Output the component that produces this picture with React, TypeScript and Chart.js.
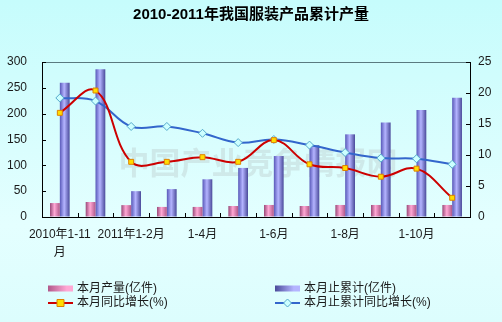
import { useEffect, useRef } from 'react';
import { Chart, registerables } from 'chart.js';

Chart.register(...registerables);

const categories = ['2010年1-11月', '2010年1-12月', '2011年1-2月', '1-3月', '1-4月', '1-5月', '1-6月', '1-7月', '1-8月', '1-9月', '1-10月', '1-11月'];
const tickLabels: (string | string[])[] = [['2010年1-11', '月'], '', '2011年1-2月', '', '1-4月', '', '1-6月', '', '1-8月', '', '1-10月', ''];
const monthOutput = [27, 29, 23, 19.5, 19.5, 21.3, 23.3, 21.3, 23.3, 23.3, 23.3, 23.3];
const cumulativeOutput = [260, 286, 50, 54, 73, 95, 118, 139, 160, 183, 207, 231];
const monthGrowth = [16.8, 20.4, 8.9, 8.9, 9.65, 8.9, 12.4, 8.5, 7.9, 6.5, 7.8, 3.1];
const cumulativeGrowth = [19.2, 18.7, 14.6, 14.6, 13.5, 12.0, 12.5, 11.6, 10.4, 9.5, 9.4, 8.5];
const seriesNames = ['本月产量(亿件)', '本月止累计(亿件)', '本月同比增长(%)', '本月止累计同比增长(%)'];
const titleText = '2010-2011年我国服装产品累计产量';
const watermarkText = '中国产业竞争情报网';

const FONT = '"Liberation Sans", "Noto Sans CJK SC", sans-serif';
const CAT_PCT = 0.55;

const pinkStops = ['#9a4a7a', '#ffa8d4', '#b0588a'];
const blueStops = ['#5858b8', '#b4b4ff', '#4a4a9a'];

function barGradient(ctx: any, dsIndex: number, stops: string[]) {
  const chart = ctx.chart;
  const xs = chart.scales && chart.scales.x;
  const i = ctx.dataIndex;
  if (!chart.chartArea || !xs || i === undefined) return stops[1];
  const c = xs.getPixelForValue(i);
  const w = (xs.width / categories.length) * CAT_PCT / 2;
  const left = dsIndex === 0 ? c - w : c;
  const g = chart.ctx.createLinearGradient(left, 0, left + w, 0);
  g.addColorStop(0, stops[0]);
  g.addColorStop(0.45, stops[1]);
  g.addColorStop(1, stops[2]);
  return g;
}

const bgPlugin = {
  id: 'bg',
  beforeDraw(chart: any) {
    const { ctx, width, height } = chart;
    ctx.save();
    const g = ctx.createLinearGradient(0, 0, 0, height);
    g.addColorStop(0, '#c6fcfc');
    g.addColorStop(0.7, '#e4ffff');
    g.addColorStop(1, '#dcfdfd');
    ctx.fillStyle = g;
    ctx.fillRect(0, 0, width, height);
    ctx.restore();
  },
};

const watermarkPlugin = {
  id: 'watermark',
  beforeDatasetsDraw(chart: any) {
    const { ctx, chartArea: a } = chart;
    ctx.save();
    ctx.font = 'bold 31px "Noto Sans CJK SC", serif';
    ctx.fillStyle = 'rgba(160,160,160,0.22)';
    ctx.textAlign = 'center';
    ctx.textBaseline = 'middle';
    ctx.fillText(watermarkText, (a.left + a.right) / 2 + 2, 162);
    ctx.restore();
  },
};

const framePlugin = {
  id: 'frame',
  afterDraw(chart: any) {
    const { ctx, chartArea: a, scales } = chart;
    ctx.save();
    ctx.lineWidth = 1;
    ctx.strokeStyle = '#5a7a80';
    ctx.beginPath();
    ctx.moveTo(a.left, Math.round(a.top) + 0.5);
    ctx.lineTo(a.right, Math.round(a.top) + 0.5);
    ctx.stroke();
    ctx.strokeStyle = '#000';
    ctx.beginPath();
    scales.y.ticks.forEach((t: any) => {
      const y = Math.round(scales.y.getPixelForValue(t.value)) + 0.5;
      ctx.moveTo(a.left, y);
      ctx.lineTo(a.left + 4, y);
    });
    scales.y1.ticks.forEach((t: any) => {
      const y = Math.round(scales.y1.getPixelForValue(t.value)) + 0.5;
      ctx.moveTo(a.right, y);
      ctx.lineTo(a.right - 4, y);
    });
    for (let i = 0; i <= categories.length; i++) {
      const x = Math.round(scales.x.getPixelForValue(i - 0.5)) + 0.5;
      ctx.moveTo(x, a.bottom);
      ctx.lineTo(x, a.bottom - 4);
    }
    ctx.stroke();
    ctx.restore();
  },
};

const legendPlugin = {
  id: 'customLegend',
  afterDraw(chart: any) {
    const { ctx } = chart;
    ctx.save();
    ctx.font = '12px ' + FONT;
    ctx.fillStyle = '#1a1a1a';
    ctx.textBaseline = 'middle';
    ctx.textAlign = 'left';
    const cols = [48, 275];
    const rows = [288.5, 303];
    const swW = 25;
    const bars = [[...pinkStops], [...blueStops]];
    [0, 1].forEach((k) => {
      const x = cols[k];
      const y = rows[0];
      const st = bars[k];
      const g = ctx.createLinearGradient(x, 0, x + swW, 0);
      g.addColorStop(0, st[2]);
      g.addColorStop(0.75, st[1]);
      g.addColorStop(1, st[1]);
      ctx.fillStyle = g;
      ctx.fillRect(x, y - 3, swW, 6);
      ctx.fillStyle = '#1a1a1a';
      ctx.fillText(seriesNames[k], x + swW + 4, y);
    });
    const lines = [
      { color: '#cc0000', fill: '#ffdd00', border: '#e08000', diamond: false },
      { color: '#3366cc', fill: '#ccffff', border: '#55aacc', diamond: true },
    ];
    [0, 1].forEach((k) => {
      const x = cols[k];
      const y = rows[1];
      const L = lines[k];
      ctx.strokeStyle = L.color;
      ctx.lineWidth = 2;
      ctx.beginPath();
      ctx.moveTo(x, y);
      ctx.lineTo(x + swW, y);
      ctx.stroke();
      const cx = x + swW / 2;
      ctx.fillStyle = L.fill;
      ctx.strokeStyle = L.border;
      ctx.lineWidth = 1;
      ctx.beginPath();
      if (L.diamond) {
        ctx.moveTo(cx, y - 4);
        ctx.lineTo(cx + 4, y);
        ctx.lineTo(cx, y + 4);
        ctx.lineTo(cx - 4, y);
        ctx.closePath();
      } else {
        ctx.rect(cx - 3.5, y - 3.5, 7, 7);
      }
      ctx.fill();
      ctx.stroke();
      ctx.fillStyle = '#1a1a1a';
      ctx.fillText(seriesNames[k + 2], x + swW + 4, y);
    });
    ctx.restore();
  },
};

export default function App() {
  const ref = useRef<HTMLCanvasElement>(null);
  useEffect(() => {
    document.body.style.margin = '0';
    if (!ref.current) return;
    const chart = new Chart(ref.current, {
      type: 'bar',
      data: {
        labels: categories,
        datasets: [
          {
            type: 'bar',
            label: seriesNames[0],
            data: monthOutput,
            yAxisID: 'y',
            order: 3,
            barPercentage: 1,
            categoryPercentage: CAT_PCT,
            backgroundColor: (c: any) => barGradient(c, 0, pinkStops),
            borderWidth: 0,
          },
          {
            type: 'bar',
            label: seriesNames[1],
            data: cumulativeOutput,
            yAxisID: 'y',
            order: 3,
            barPercentage: 1,
            categoryPercentage: CAT_PCT,
            backgroundColor: (c: any) => barGradient(c, 1, blueStops),
            borderWidth: 0,
          },
          {
            type: 'line',
            label: seriesNames[2],
            data: monthGrowth,
            yAxisID: 'y1',
            order: 0,
            borderColor: '#cc0000',
            borderWidth: 2,
            tension: 0.4,
            pointStyle: 'rect',
            pointRadius: 3.5,
            pointBackgroundColor: '#ffdd00',
            pointBorderColor: '#e08000',
            pointBorderWidth: 1,
            fill: false,
          },
          {
            type: 'line',
            label: seriesNames[3],
            data: cumulativeGrowth,
            yAxisID: 'y1',
            order: 1,
            borderColor: '#3366cc',
            borderWidth: 2,
            tension: 0.4,
            pointStyle: 'rectRot',
            pointRadius: 4,
            pointBackgroundColor: '#ccffff',
            pointBorderColor: '#55aacc',
            pointBorderWidth: 1,
            fill: false,
          },
        ],
      },
      options: {
        responsive: false,
        animation: false,
        devicePixelRatio: 1,
        layout: { padding: 0 },
        plugins: {
          legend: { display: false },
          tooltip: { enabled: false },
          title: {
            display: true,
            text: titleText,
            color: '#000',
            font: { size: 15, weight: 'bold', family: FONT, lineHeight: 1.2 },
            padding: { top: 6, bottom: 38 },
          },
        },
        scales: {
          x: {
            offset: true,
            grid: { display: true, drawOnChartArea: false, drawTicks: false, offset: true },
            border: { display: true, color: '#000', width: 1 },
            ticks: {
              autoSkip: false,
              maxRotation: 0,
              minRotation: 0,
              padding: 9,
              color: '#1a1a1a',
              font: { size: 12, family: FONT, lineHeight: 1.5 },
              callback: (_v: any, i: number) => tickLabels[i],
            },
            afterFit: (s: any) => {
              s.height = 105;
            },
          },
          y: {
            position: 'left',
            min: 0,
            max: 300,
            grid: { display: true, drawOnChartArea: false, drawTicks: false },
            border: { display: true, color: '#000', width: 1 },
            ticks: {
              stepSize: 50,
              padding: 15,
              color: '#1a1a1a',
              font: { size: 12, family: FONT },
            },
            afterFit: (s: any) => {
              s.width = 42;
            },
          },
          y1: {
            position: 'right',
            min: 0,
            max: 25,
            grid: { display: true, drawOnChartArea: false, drawTicks: false },
            border: { display: true, color: '#000', width: 1 },
            ticks: {
              stepSize: 5,
              padding: 8,
              color: '#1a1a1a',
              font: { size: 12, family: FONT },
            },
            afterFit: (s: any) => {
              s.width = 32;
            },
          },
        },
      },
      plugins: [bgPlugin, watermarkPlugin, framePlugin, legendPlugin],
    } as any);
    return () => chart.destroy();
  }, []);
  return (
    <div style={{ width: 502, height: 322 }}>
      <canvas ref={ref} width={502} height={322} style={{ display: 'block', width: 502, height: 322 }} />
    </div>
  );
}
